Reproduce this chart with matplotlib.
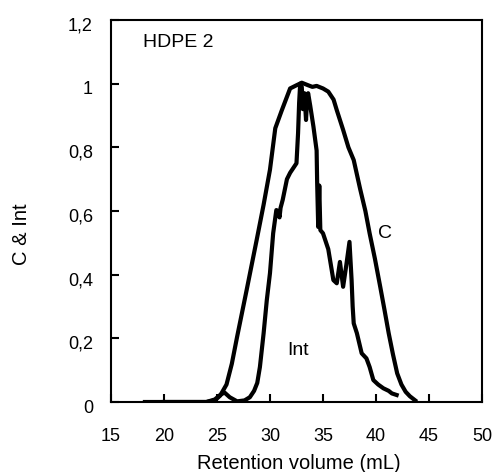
import matplotlib
matplotlib.use("Agg")
import matplotlib.pyplot as plt
import matplotlib.transforms as mtransforms

plt.rcParams['font.family'] = ['Liberation Sans', 'DejaVu Sans']

# C curve (concentration)
c_x = [18.2, 20, 22, 24, 24.8, 25.3, 25.9, 26.4, 26.9, 27.8, 28.75, 29.4,
       30.0, 30.5, 31.1, 31.5, 31.9, 32.5, 33.0, 33.6, 34.0, 34.4, 35.0,
       35.5, 36.0, 36.3, 36.9, 37.4, 37.9, 38.5, 39.0, 39.4, 39.9, 40.4,
       40.8, 41.2, 41.6, 42.0, 42.4, 42.8, 43.2, 43.7]
c_y = [0.0, 0.0, 0.0, 0.0, 0.005, 0.02, 0.055, 0.12, 0.205, 0.352, 0.51, 0.62,
       0.73, 0.86, 0.915, 0.95, 0.985, 0.995, 1.003, 0.995, 0.99, 0.993, 0.985,
       0.975, 0.95, 0.917, 0.855, 0.8, 0.76, 0.67, 0.6, 0.53, 0.45, 0.362,
       0.29, 0.216, 0.15, 0.09, 0.055, 0.032, 0.018, 0.005]

# Int curve (intensity)
int_x = [20.0, 22, 24, 24.8, 25.3, 25.7, 26.2, 26.9, 27.6, 28.1, 28.5, 28.8,
         29.05, 29.4, 29.7, 30.0, 30.3, 30.6, 30.75, 30.9, 31.0, 31.2, 31.6,
         31.9, 32.3, 32.5, 32.65, 32.75, 32.85, 33.0, 33.1, 33.25, 33.4, 33.5,
         33.6, 33.8, 34.1, 34.4, 34.45, 34.55, 34.65, 34.75, 35.0, 35.5, 35.98,
         36.3, 36.6, 36.9, 37.2, 37.5, 37.7, 37.8, 37.9, 38.2, 38.65, 39.1,
         39.4, 39.75, 40.2, 40.7, 41.2, 41.5, 41.95]
int_y = [0.0, 0.0, 0.0, 0.008, 0.022, 0.03, 0.015, 0.002, 0.005, 0.015, 0.035, 0.06,
         0.11, 0.216, 0.32, 0.405, 0.53, 0.603, 0.6, 0.58, 0.61, 0.635, 0.7,
         0.72, 0.74, 0.75, 0.845, 0.94, 1.0, 0.99, 0.92, 0.97, 0.886, 0.95,
         0.97, 0.93, 0.865, 0.79, 0.69, 0.55, 0.68, 0.54, 0.53, 0.48, 0.383,
         0.373, 0.44, 0.362, 0.43, 0.503, 0.383, 0.3, 0.247, 0.216, 0.153, 0.137,
         0.11, 0.069, 0.055, 0.043, 0.035, 0.027, 0.022]

x_ticks = [15, 20, 25, 30, 35, 40, 45, 50]
y_ticks = [0, 0.2, 0.4, 0.6, 0.8, 1.0, 1.2]
y_tick_labels = ["0", "0,2", "0,4", "0,6", "0,8", "1", "1,2"]

fig = plt.figure(figsize=(4.95, 4.72), dpi=100)
ax = fig.add_axes([0.2242, 0.1483, 0.7495, 0.8093])

ax.plot(c_x, c_y, color='black', lw=3.0, solid_joinstyle='round')
ax.plot(int_x, int_y, color='black', lw=3.0, solid_joinstyle='round')

ax.set_xlim(15, 50)
ax.set_ylim(0, 1.2)
ax.set_xticks(x_ticks)
ax.set_yticks(y_ticks)
ax.set_yticklabels(y_tick_labels)
ax.tick_params(direction='in', length=6, width=1.5, labelsize=13, pad=13)
ax.tick_params(axis='x', pad=19)
for s in ax.spines.values():
    s.set_linewidth(1.5)

# y tick labels sit a little below their ticks in the original
shift = mtransforms.ScaledTranslation(0, -0.04, fig.dpi_scale_trans)
for lab in ax.get_yticklabels():
    lab.set_transform(lab.get_transform() + shift)

ax.text(18.0, 1.128, "HDPE 2", fontsize=14, va='center', ha='left')
ax.text(40.85, 0.53, "C", fontsize=14, va='center', ha='center')
ax.text(32.65, 0.163, "Int", fontsize=14, va='center', ha='center')

ax.set_xlabel("Retention volume (mL)", fontsize=14.5, va='center')
ax.xaxis.set_label_coords(0.505, -0.16)
ax.set_ylabel("C & Int", fontsize=14.5, va='center')
ax.yaxis.set_label_coords(-0.24, 0.44)

fig.savefig("out.png", dpi=100)
